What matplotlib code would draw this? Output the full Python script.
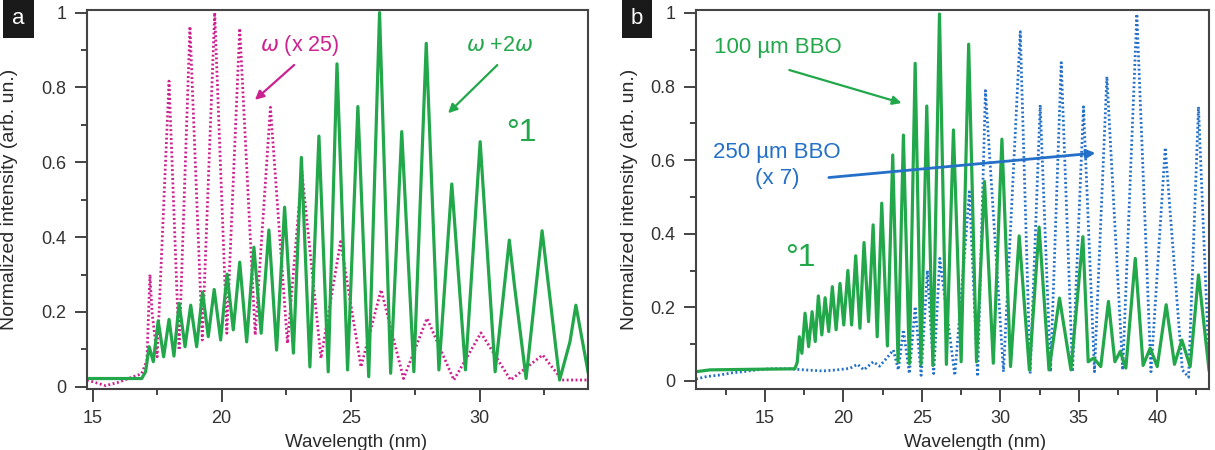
import matplotlib
matplotlib.use("Agg")
import matplotlib.pyplot as plt
from matplotlib.ticker import MultipleLocator

plt.rcParams['font.family'] = ['Liberation Sans', 'DejaVu Sans']

green = '#22a84a'
magenta = '#cc2290'
blue = '#2470c8'
axcol = '#444444'

# panel a : omega + 2omega (solid) and omega x25 (dotted)
a_green_x = [14.78, 16.9, 17.05, 17.19, 17.35, 17.54, 17.75, 17.96, 18.15, 18.35, 18.58, 18.80,
             19.03, 19.26, 19.48, 19.71, 19.96, 20.21, 20.45, 20.70, 20.97, 21.25, 21.53, 21.83,
             22.13, 22.44, 22.78, 23.09, 23.42, 23.77, 24.13, 24.47, 24.88, 25.28, 25.70, 26.12,
             26.55, 26.98, 27.45, 27.93, 28.42, 28.92, 29.45, 30.02, 30.60, 31.15, 31.35, 31.8,
             32.42, 33.1, 33.5, 33.73, 34.2]
a_green_y = [0.022, 0.022, 0.04, 0.107, 0.067, 0.176, 0.08, 0.18, 0.082, 0.223, 0.107, 0.218,
             0.107, 0.253, 0.134, 0.26, 0.125, 0.301, 0.152, 0.333, 0.12, 0.373, 0.143, 0.419,
             0.098, 0.48, 0.09, 0.613, 0.053, 0.670, 0.04, 0.863, 0.045, 0.749, 0.027, 1.0,
             0.036, 0.682, 0.04, 0.918, 0.045, 0.542, 0.045, 0.655, 0.04, 0.392, 0.27, 0.022,
             0.417, 0.018, 0.12, 0.218, 0.04]

a_mag_x = [14.78, 15.5, 16.0, 16.5, 16.9, 17.1, 17.22, 17.3, 17.5, 17.96, 18.35, 18.77, 19.25,
           19.73, 20.2, 20.70, 21.3, 21.89, 22.55, 23.11, 23.85, 24.61, 25.4, 26.18, 27.05,
           27.96, 29.0, 30.05, 31.2, 32.44, 33.2, 34.2]
a_mag_y = [0.018, 0.003, 0.012, 0.025, 0.035, 0.07, 0.30, 0.2, 0.08, 0.817, 0.098, 0.963, 0.125,
           1.0, 0.143, 0.958, 0.138, 0.747, 0.116, 0.575, 0.076, 0.388, 0.053, 0.259, 0.022,
           0.183, 0.018, 0.144, 0.018, 0.085, 0.018, 0.018]

# panel b : 100 um BBO (solid) and 250 um BBO x7 (dotted)
b_green_x = [10.6, 11.5, 16.9, 17.05, 17.19, 17.35, 17.55, 17.78, 18.0, 18.2, 18.40, 18.62, 18.83,
             19.06, 19.29, 19.53, 19.78, 20.02, 20.28, 20.52, 20.78, 21.05, 21.31, 21.6, 21.89,
             22.15, 22.44, 22.8, 23.14, 23.48, 23.82, 24.2, 24.57, 24.94, 25.31, 25.7, 26.12,
             26.56, 27.01, 27.5, 27.98, 28.48, 28.99, 29.55, 30.10, 30.65, 31.20, 31.85, 32.47,
             33.1, 33.77, 34.5, 35.26, 35.6, 35.94, 36.4, 36.89, 37.3, 37.64, 38.0, 38.60, 39.1,
             39.55, 40.0, 40.57, 41.1, 41.57, 42.1, 42.63, 43.3]
b_green_y = [0.025, 0.03, 0.033, 0.05, 0.12, 0.075, 0.184, 0.093, 0.188, 0.107, 0.231, 0.125, 0.226,
             0.134, 0.256, 0.139, 0.265, 0.152, 0.30, 0.152, 0.34, 0.143, 0.376, 0.161, 0.424,
             0.12, 0.483, 0.095, 0.614, 0.052, 0.668, 0.047, 0.863, 0.045, 0.747, 0.042, 0.997,
             0.045, 0.682, 0.052, 0.915, 0.052, 0.542, 0.048, 0.657, 0.039, 0.394, 0.03, 0.418,
             0.03, 0.225, 0.03, 0.392, 0.052, 0.062, 0.039, 0.216, 0.052, 0.08, 0.035, 0.333, 0.042,
             0.089, 0.039, 0.207, 0.045, 0.111, 0.039, 0.288, 0.03]

b_blue_x = [10.6, 11.3, 12.1, 12.9, 13.6, 14.5, 15.3, 16.5, 17.5, 18.7, 19.6, 20.4, 20.9, 21.3,
            21.9, 22.3, 22.76, 23.18, 23.5, 23.82, 24.2, 24.57, 24.95, 25.35, 25.75, 26.14, 27.1,
            28.03, 28.55, 29.05, 30.2, 31.27, 31.9, 32.54, 33.2, 33.88, 34.6, 35.30, 36.0, 36.79,
            37.8, 38.70, 39.6, 40.51, 41.6, 42.0, 42.63, 43.3]
b_blue_y = [0.005, 0.012, 0.016, 0.022, 0.025, 0.03, 0.033, 0.033, 0.03, 0.027, 0.03, 0.034, 0.045,
            0.03, 0.052, 0.04, 0.062, 0.084, 0.03, 0.139, 0.02, 0.202, 0.015, 0.30, 0.02, 0.333,
            0.015, 0.514, 0.012, 0.789, 0.025, 0.949, 0.02, 0.75, 0.025, 0.865, 0.025, 0.745,
            0.025, 0.827, 0.03, 0.997, 0.025, 0.634, 0.03, 0.01, 0.745, 0.04]

yticks = [0, 0.2, 0.4, 0.6, 0.8, 1]
ytick_labels = ['0', '0.2', '0.4', '0.6', '0.8', '1']
a_xticks = [15, 20, 25, 30]
b_xticks = [15, 20, 25, 30, 35, 40]

fig = plt.figure(figsize=(12.15, 4.5), dpi=100)
ax1 = fig.add_axes([87 / 1215, 61 / 450, 501 / 1215, 379 / 450])
ax2 = fig.add_axes([696 / 1215, 61 / 450, 513 / 1215, 379 / 450])

ax1.plot(a_mag_x, a_mag_y, color=magenta, lw=2.0, ls=(0, (0.7, 0.9)))
ax1.plot(a_green_x, a_green_y, color=green, lw=2.3)
ax1.set_xlim(14.78, 34.2)
ax1.set_ylim(-0.006, 1.007)
ax1.set_xticks(a_xticks)

ax2.plot(b_blue_x, b_blue_y, color=blue, lw=2.0, ls=(0, (0.7, 0.9)))
ax2.plot(b_green_x, b_green_y, color=green, lw=2.3)
ax2.set_xlim(10.6, 43.3)
ax2.set_ylim(-0.022, 1.008)
ax2.set_xticks(b_xticks)

for ax in (ax1, ax2):
    ax.set_yticks(yticks)
    ax.set_yticklabels(ytick_labels)
    ax.xaxis.set_minor_locator(MultipleLocator(2.5))
    ax.yaxis.set_minor_locator(MultipleLocator(0.1))
    ax.tick_params(which='major', direction='out', length=9, width=1.4, color=axcol,
                   labelsize=13, labelcolor='#333333', pad=6)
    ax.tick_params(which='minor', direction='out', length=4.5, width=1.4, color=axcol)
    for s in ax.spines.values():
        s.set_color(axcol)
        s.set_linewidth(1.5)
    ax.set_xlabel('Wavelength (nm)', fontsize=13.5, color='#2a2a2a')
    ax.set_ylabel('Normalized intensity (arb. un.)', fontsize=14, color='#2a2a2a')

ax1.xaxis.set_label_coords(0.537, -0.12)
ax1.yaxis.set_label_coords(-0.137, 0.5)
ax2.xaxis.set_label_coords(0.544, -0.12)
ax2.yaxis.set_label_coords(-0.114, 0.5)

# panel a annotations
ax1.text(23.02, 0.911, r'$\omega$ (x 25)', color=magenta, fontsize=15.5, ha='center', va='center')
ax1.annotate('', xy=(21.21, 0.762), xytext=(22.89, 0.865),
             arrowprops=dict(arrowstyle='-|>', color=magenta, lw=1.6, mutation_scale=13))
ax1.text(30.78, 0.913, r'$\omega$ +2$\omega$', color=green, fontsize=15.5, ha='center', va='center')
ax1.annotate('', xy=(28.70, 0.726), xytext=(30.76, 0.865),
             arrowprops=dict(arrowstyle='-|>', color=green, lw=1.6, mutation_scale=13))
ax1.text(31.61, 0.678, '°1', color=green, fontsize=23, ha='center', va='center')

# panel b annotations
ax2.text(15.83, 0.907, '100 µm BBO', color=green, fontsize=16, ha='center', va='center')
ax2.annotate('', xy=(23.87, 0.753), xytext=(16.38, 0.847),
             arrowprops=dict(arrowstyle='-|>', color=green, lw=1.6, mutation_scale=13))
ax2.text(15.77, 0.622, '250 µm BBO', color=blue, fontsize=16, ha='center', va='center')
ax2.text(15.8, 0.549, '(x 7)', color=blue, fontsize=16, ha='center', va='center')
ax2.annotate('', xy=(36.24, 0.62), xytext=(18.89, 0.552),
             arrowprops=dict(arrowstyle='-|>', color=blue, lw=2.0, mutation_scale=13))
ax2.text(17.23, 0.334, '°1', color=green, fontsize=23, ha='center', va='center')

# panel letters
fig.text(18.5 / 1215, 1 - 19 / 450, 'a', color='white', fontsize=16, ha='center', va='center',
         bbox=dict(boxstyle='square,pad=0.4', fc='#1a1a1a', ec='none'))
fig.text(637 / 1215, 1 - 19 / 450, 'b', color='white', fontsize=16, ha='center', va='center',
         bbox=dict(boxstyle='square,pad=0.4', fc='#1a1a1a', ec='none'))

fig.savefig('out.png', dpi=100)
